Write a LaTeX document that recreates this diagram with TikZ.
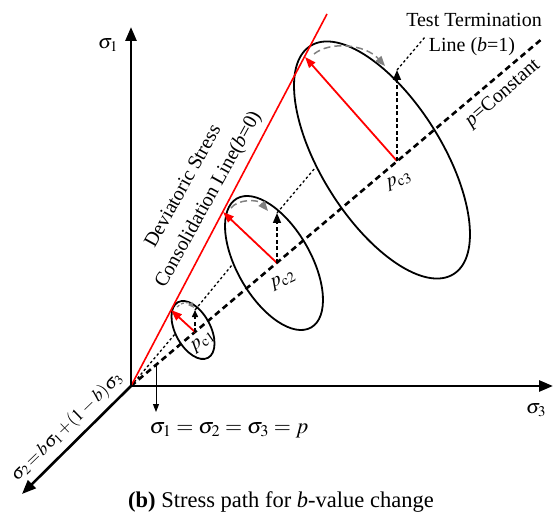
\documentclass[tikz,border=0pt]{standalone}
\usepackage{mathptmx}
\usepackage{fontspec}
\setmainfont{Liberation Serif}
\usetikzlibrary{arrows.meta}
\begin{document}
\begin{tikzpicture}[x=1pt,y=-1pt,
  lbl/.style={font=\fontsize{20}{24}\selectfont, inner sep=0pt},
  axisline/.style={line width=2.6pt, -{Triangle[length=14pt,width=11pt]}},
  redline/.style={red, line width=1.6pt},
  redarr/.style={red, line width=1.8pt, -{Triangle[length=11pt,width=8pt]}},
  blkarr/.style={line width=1.5pt, dash pattern=on 4pt off 2.5pt, -{Triangle[length=10pt,width=8pt]}},
  grayarr/.style={gray, line width=1.5pt, dash pattern=on 7pt off 4pt, -{Triangle[length=10pt,width=8pt]}},
  ell/.style={line width=1.8pt},
  pline/.style={line width=2.6pt, dash pattern=on 6pt off 4pt},
  tline/.style={line width=1.3pt, dash pattern=on 2.5pt off 2.5pt}]
\useasboundingbox (0,0) rectangle (558,527);

% key points
\coordinate (O) at (131,386);
\coordinate (S1) at (131,27);
\coordinate (S3) at (553,386);
\coordinate (S2) at (22,494);
\coordinate (R) at (327,14);
\coordinate (P) at (543,38);
\coordinate (T) at (425,37);
\coordinate (pc1) at (195,332);
\coordinate (pc2) at (277,263);
\coordinate (pc3) at (397,161);
\coordinate (r1) at (171,310);
\coordinate (r2) at (223,212);
\coordinate (r3) at (305,57);
\coordinate (t1) at (195,310);
\coordinate (t2) at (277,213);
\coordinate (t3) at (397,70);
\coordinate (e1) at (175,334);
\coordinate (e2) at (232,265);
\coordinate (e3) at (315,168);
\coordinate (hp) at (156,365);
\coordinate (hq) at (156,412);

% ellipses
\draw[ell, rotate around={-61.6:(193,330)}] (193,330) ellipse [x radius=31.6pt, y radius=17.5pt];
\draw[ell, rotate around={-60:(274,263)}] (274,263) ellipse [x radius=74.4pt, y radius=36.8pt];
\draw[ell, rotate around={-57.9:(382,160)}] (382,160) ellipse [x radius=134.7pt, y radius=60.4pt];

% lines from origin
\draw[pline] (O) -- (P);
\draw[tline] (O) -- (e1);
\draw[tline] (t1) -- (e2);
\draw[tline] (t2) -- (e3);
\draw[tline] (t3) -- (T);
\draw[redline] (O) -- (R);

% axes
\draw[axisline] (O) -- (S1);
\draw[axisline] (O) -- (S3);
\draw[axisline] (O) -- (S2);

% stress paths
\draw[redarr] (pc1) -- (r1);
\draw[redarr] (pc2) -- (r2);
\draw[redarr] (pc3) -- (r3);
\draw[blkarr, -{Triangle[length=7pt,width=6pt]}] (pc1) -- (t1);
\draw[blkarr] (pc2) -- (t2);
\draw[blkarr] (pc3) -- (t3);
\draw[grayarr, line width=1.2pt, dash pattern=on 3pt off 2pt, -{Triangle[length=6pt,width=5pt]}] (177,307) .. controls (181,302) and (189,302) .. (194,308);
\draw[grayarr] (231,208) .. controls (238,199) and (258,199) .. (268,211);
\draw[grayarr] (314,54) .. controls (330,41) and (365,44) .. (385,66);

% hydrostatic pointer
\draw[line width=1pt, -{Triangle[length=8pt,width=6pt]}] (hp) -- (hq);

% labels
\node[lbl] (ls1) at (108,45) {$\sigma_1$};
\node[lbl] (ls3) at (536,410) {$\sigma_3$};
\node[lbl, font=\fontsize{18}{22}\selectfont, anchor=base, rotate=44] (ls2) at (70,430) {$\sigma_2\!=\!b\sigma_1\!+\!(1-b)\sigma_3$};
\node[lbl, anchor=base, rotate=61] (ldev) at (188,189) {Deviatoric Stress};
\node[lbl, anchor=base, rotate=61] (lcons) at (213,202) {Consolidation Line(\textit{b}=0)};
\node[lbl, anchor=base, rotate=41] (lpc) at (506,97) {\textit{p}=Constant};
\node[lbl, anchor=base] (ltt1) at (474,27) {Test Termination};
\node[lbl, anchor=base] (ltt2) at (472,52) {Line (\textit{b}=1)};
\node[lbl, rotate=35] (lp1) at (203,342) {$p_{\mathrm{c}1}$};
\node[lbl, rotate=25] (lp2) at (283,281) {$p_{\mathrm{c}2}$};
\node[lbl, rotate=20] (lp3) at (399,181) {$p_{\mathrm{c}3}$};
\node[lbl, font=\fontsize{22}{26}\selectfont] (leq) at (229,430) {$\sigma_1=\sigma_2=\sigma_3=p$};
\node[lbl, font=\fontsize{22.5}{27}\selectfont, anchor=base] (cap) at (281,507) {\textbf{(b)} Stress path for \textit{b}-value change};
\end{tikzpicture}
\end{document}
